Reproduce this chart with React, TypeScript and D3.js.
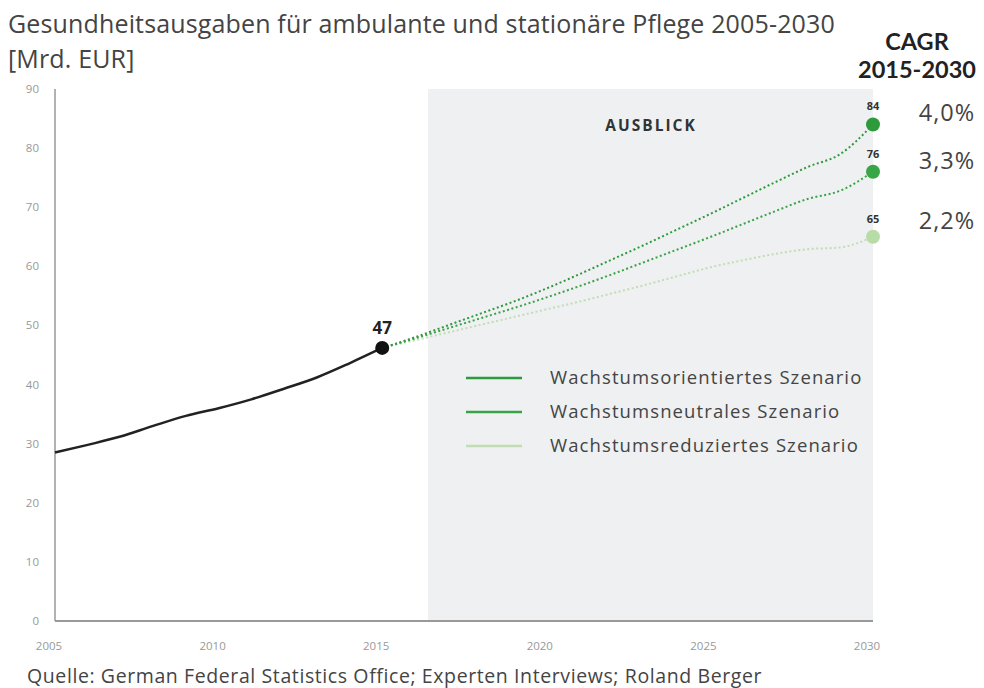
import React, { useEffect, useRef } from "react";
import * as d3 from "d3";

// historical values 2005-2015
const histYears = [2005, 2006, 2007, 2008, 2009, 2010, 2011, 2012, 2013, 2014, 2015];
const histValues = [28.5, 29.8, 31.2, 33.0, 34.7, 36.0, 37.5, 39.3, 41.2, 43.6, 46.2];

// scenarios 2015-2030
const scenYears = [2015, 2016, 2017, 2018, 2019, 2020, 2021, 2022, 2023, 2024, 2025, 2026, 2027, 2028, 2029, 2030];
const growthValues = [46.2, 48.0, 50.0, 52.0, 54.0, 56.2, 58.6, 61.1, 63.6, 66.2, 68.8, 71.5, 74.2, 76.8, 79.0, 84];
const neutralValues = [46.2, 47.8, 49.5, 51.2, 52.9, 54.7, 56.6, 58.6, 60.7, 62.8, 64.9, 67.1, 69.3, 71.4, 72.8, 76];
const reducedValues = [46.2, 47.5, 48.8, 50.1, 51.4, 52.7, 54.0, 55.4, 56.8, 58.3, 59.8, 61.0, 62.1, 62.9, 63.2, 65];

const scenarioNames = ["Wachstumsorientiertes Szenario", "Wachstumsneutrales Szenario", "Wachstumsreduziertes Szenario"];
const endLabels = ["84", "76", "65"];
const cagrLabels = ["4,0%", "3,3%", "2,2%"];
const yTicks = [0, 10, 20, 30, 40, 50, 60, 70, 80, 90];
const xTicks = [2005, 2010, 2015, 2020, 2025, 2030];

export default function App() {
  const svgRef = useRef<SVGSVGElement>(null);

  useEffect(() => {
    const width = 984;
    const height = 688;
    const svg = d3.select(svgRef.current).attr("width", width).attr("height", height);
    svg.selectAll("*").remove();

    const font = "'Open Sans', sans-serif";
    const boldFont = "Lato, sans-serif";
    const x = d3.scaleLinear().domain([2005, 2030]).range([55, 873]);
    const y = d3.scaleLinear().domain([0, 90]).range([621, 89]);

    // --- Ausblick background ---
    svg.append("rect")
      .attr("x", x(2016.4))
      .attr("y", y(90))
      .attr("width", x(2030) - x(2016.4))
      .attr("height", y(0) - y(90))
      .attr("fill", "#eef0f2");

    svg.append("text")
      .attr("x", 651).attr("y", 131)
      .attr("text-anchor", "middle")
      .attr("font-family", font).attr("font-weight", 700)
      .attr("font-size", 15.5).attr("letter-spacing", 2).attr("fill", "#333")
      .text("AUSBLICK");

    // --- Axes ---
    svg.append("line")
      .attr("x1", x(2005)).attr("x2", x(2005))
      .attr("y1", y(90)).attr("y2", y(0))
      .attr("stroke", "#999").attr("stroke-width", 1.5);
    svg.append("line")
      .attr("x1", x(2005)).attr("x2", x(2030))
      .attr("y1", y(0)).attr("y2", y(0))
      .attr("stroke", "#999").attr("stroke-width", 2);

    svg.append("g").selectAll("text")
      .data(yTicks)
      .join("text")
      .attr("x", 39).attr("y", d => y(d) + 4)
      .attr("text-anchor", "end")
      .attr("font-family", font).attr("font-size", 11.5).attr("fill", "#999")
      .text(d => d);

    svg.append("g").selectAll("text")
      .data(xTicks)
      .join("text")
      .attr("x", d => x(d) - 6).attr("y", 650)
      .attr("text-anchor", "middle")
      .attr("font-family", font).attr("font-size", 11.5).attr("fill", "#999")
      .text(d => d);

    // --- Historical line ---
    const histLine = d3.line<number>()
      .x((d, i) => x(histYears[i]))
      .y(d => y(d))
      .curve(d3.curveMonotoneX);

    svg.append("path")
      .attr("d", histLine(histValues))
      .attr("fill", "none").attr("stroke", "#222").attr("stroke-width", 2.5);

    // --- Scenario lines ---
    const scenLine = d3.line<number>()
      .x((d, i) => x(scenYears[i]))
      .y(d => y(d))
      .curve(d3.curveMonotoneX);

    const scenarios = [
      { values: growthValues, color: "#2f9a3c", dot: "#2e9b3b" },
      { values: neutralValues, color: "#3aa347", dot: "#38a646" },
      { values: reducedValues, color: "#c3ddb3", dot: "#b8dca8" },
    ];

    scenarios.slice().reverse().forEach(s => {
      svg.append("path")
        .attr("d", scenLine(s.values))
        .attr("fill", "none").attr("stroke", s.color)
        .attr("stroke-width", 2)
        .attr("stroke-dasharray", "2,2.5");
    });

    scenarios.forEach((s, i) => {
      const v = s.values[s.values.length - 1];
      svg.append("circle")
        .attr("cx", x(2030)).attr("cy", y(v)).attr("r", 7)
        .attr("fill", s.dot);
      svg.append("text")
        .attr("x", x(2030)).attr("y", y(v) - 14)
        .attr("text-anchor", "middle")
        .attr("font-family", font).attr("font-weight", 700)
        .attr("font-size", 11).attr("fill", "#333")
        .text(endLabels[i]);
      svg.append("text")
        .attr("x", 947).attr("y", y(v) + [-3, -3, -8][i])
        .attr("text-anchor", "middle")
        .attr("font-family", font).attr("font-size", 23.5).attr("letter-spacing", 1)
        .attr("fill", "#444")
        .text(cagrLabels[i]);
    });

    // 2015 point
    svg.append("circle")
      .attr("cx", x(2015)).attr("cy", y(46.2)).attr("r", 7)
      .attr("fill", "#111");
    svg.append("text")
      .attr("x", x(2015)).attr("y", y(46.2) - 14)
      .attr("text-anchor", "middle")
      .attr("font-family", font).attr("font-weight", 700)
      .attr("font-size", 17).attr("fill", "#222")
      .text("47");

    // --- Legend ---
    const legend = svg.append("g");
    scenarios.forEach((s, i) => {
      const ly = 378 + i * 34;
      legend.append("line")
        .attr("x1", 466).attr("x2", 522)
        .attr("y1", ly).attr("y2", ly)
        .attr("stroke", s.color).attr("stroke-width", 2.5);
      legend.append("text")
        .attr("x", 550).attr("y", ly + 6)
        .attr("font-family", font).attr("font-size", 18.5).attr("letter-spacing", 1.1)
        .attr("fill", "#444")
        .text(scenarioNames[i]);
    });

    // --- Titles ---
    svg.append("text")
      .attr("x", 8).attr("y", 33)
      .attr("font-family", font).attr("font-size", 25).attr("letter-spacing", 0.15)
      .attr("fill", "#444")
      .text("Gesundheitsausgaben für ambulante und stationäre Pflege 2005-2030");
    svg.append("text")
      .attr("x", 8).attr("y", 68)
      .attr("font-family", font).attr("font-size", 25).attr("letter-spacing", 0.15)
      .attr("fill", "#444")
      .text("[Mrd. EUR]");

    svg.append("text")
      .attr("x", 917).attr("y", 50)
      .attr("text-anchor", "middle")
      .attr("font-family", boldFont).attr("font-weight", 700)
      .attr("font-size", 23.5).attr("fill", "#222")
      .text("CAGR");
    svg.append("text")
      .attr("x", 917).attr("y", 78)
      .attr("text-anchor", "middle")
      .attr("font-family", boldFont).attr("font-weight", 700)
      .attr("font-size", 23.5).attr("fill", "#222")
      .text("2015-2030");

    svg.append("text")
      .attr("x", 27).attr("y", 683)
      .attr("font-family", font).attr("font-size", 19.5).attr("letter-spacing", 0.6)
      .attr("fill", "#444")
      .text("Quelle: German Federal Statistics Office; Experten Interviews; Roland Berger");
  }, []);

  return <svg ref={svgRef} style={{ position: "absolute", left: 0, top: 0, display: "block" }}></svg>;
}
